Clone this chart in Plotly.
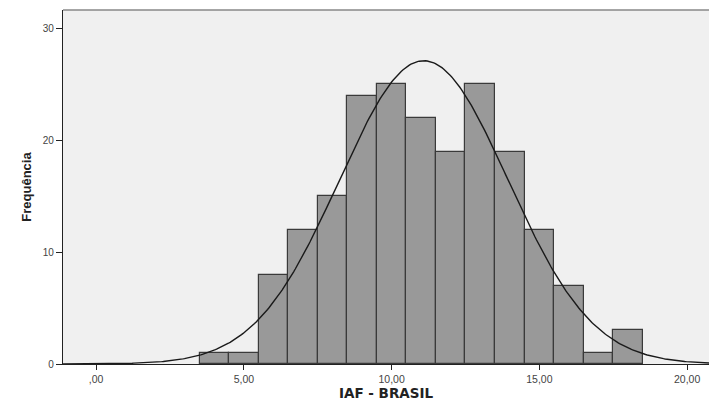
import numpy as np
import plotly.graph_objects as go

bin_centers = [4, 5, 6, 7, 8, 9, 10, 11, 12, 13, 14, 15, 16, 17, 18]
frequencies = [1, 1, 8, 12, 15, 24, 25, 22, 19, 25, 19, 12, 7, 1, 3]
x_tick_vals = [0, 5, 10, 15, 20]
x_tick_text = [",00", "5,00", "10,00", "15,00", "20,00"]
y_tick_vals = [0, 10, 20, 30]

c = np.array(bin_centers, dtype=float)
f = np.array(frequencies, dtype=float)
n = f.sum()
mean = (c * f).sum() / n
sd = np.sqrt((f * (c - mean) ** 2).sum() / (n - 1))
xs = np.linspace(-1.2, 20.8, 400)
ys = n * 1.0 / (sd * np.sqrt(2 * np.pi)) * np.exp(-0.5 * ((xs - mean) / sd) ** 2)

fig = go.Figure()
fig.add_trace(go.Bar(x=bin_centers, y=frequencies, width=1,
                     marker=dict(color="#999999", line=dict(color="#3a3a3a", width=1.2)),
                     showlegend=False))
fig.add_trace(go.Scatter(x=xs, y=ys, mode="lines", line=dict(color="#1a1a1a", width=1.4),
                         showlegend=False, hoverinfo="skip"))

fig.update_layout(
    width=709, height=401,
    margin=dict(l=63, r=0, t=10, b=37),
    paper_bgcolor="white", plot_bgcolor="#F0F0F0",
    bargap=0,
    font=dict(family="Liberation Sans, Arial", size=10, color="#444444"),
    xaxis=dict(range=[-1.12, 20.74], tickvals=x_tick_vals, ticktext=x_tick_text,
               showgrid=False, zeroline=False, showline=True, linecolor="#222222", linewidth=1.3,
               ticks="outside", ticklen=5, tickcolor="#222222", tickfont=dict(size=10.5, color="#444444"),
               title=dict(text="<b>IAF - BRASIL</b>", font=dict(size=13.5, color="#222222",
                          family="DejaVu Sans, Liberation Sans, Arial"), standoff=3)),
    yaxis=dict(range=[0, 31.66], tickvals=y_tick_vals,
               showgrid=False, zeroline=False, showline=True, linecolor="#222222", linewidth=1.3,
               ticks="outside", ticklen=6, tickcolor="#222222", tickfont=dict(size=10, color="#444444"),
               title=dict(text="<b>Frequência</b>", font=dict(size=13, color="#222222",
                          family="Liberation Sans Narrow, Arial Narrow, Liberation Sans"), standoff=8)),
    shapes=[dict(type="line", xref="paper", yref="paper", x0=0, x1=1, y0=1, y1=1,
                 line=dict(color="#888888", width=1.5))],
)

fig.write_html("out.html")
